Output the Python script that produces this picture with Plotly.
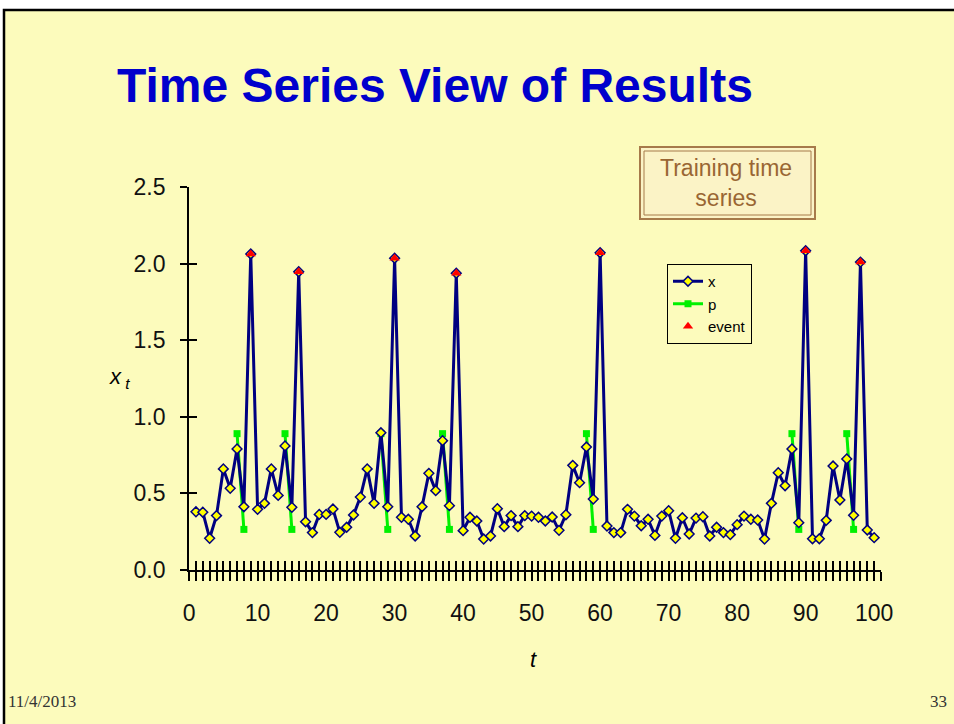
import plotly.graph_objects as go

# ---- data -------------------------------------------------------------
t = list(range(1, 101))
x_vals = [
    0.38, 0.377, 0.207, 0.355, 0.66, 0.533, 0.79, 0.413, 2.063, 0.396,
    0.435, 0.66, 0.487, 0.81, 0.409, 1.947, 0.315, 0.244, 0.363, 0.363,
    0.398, 0.246, 0.279, 0.359, 0.476, 0.66, 0.435, 0.896, 0.413, 2.035,
    0.344, 0.331, 0.222, 0.413, 0.631, 0.518, 0.844, 0.42, 1.937, 0.257,
    0.344, 0.32, 0.202, 0.222, 0.40, 0.283, 0.355, 0.283, 0.355, 0.352,
    0.344, 0.32, 0.346, 0.259, 0.361, 0.683, 0.57, 0.803, 0.463, 2.071,
    0.287, 0.244, 0.244, 0.396, 0.352, 0.289, 0.331, 0.226, 0.352, 0.387,
    0.207, 0.341, 0.235, 0.339, 0.348, 0.222, 0.279, 0.244, 0.231, 0.296,
    0.352, 0.331, 0.326, 0.202, 0.435, 0.635, 0.55, 0.79, 0.309, 2.084,
    0.204, 0.204, 0.324, 0.679, 0.457, 0.725, 0.357, 2.01, 0.261, 0.211,
]

# predicted probability: high just before an event, low right after
p_times = [7, 8, 14, 15, 28, 29, 37, 38, 58, 59, 88, 89, 96, 97]
p_levels = [0.89, 0.265] * 7

event_times = [9, 16, 30, 39, 60, 90, 98]

y_ticks = [0.0, 0.5, 1.0, 1.5, 2.0, 2.5]
x_label_ticks = list(range(0, 101, 10))

# ---- derived series ---------------------------------------------------
p_series = [None] * len(t)
for tt, lv in zip(p_times, p_levels):
    p_series[tt - 1] = lv
event_vals = [x_vals[tt - 1] for tt in event_times]

W, H = 954, 724
FONT = "Liberation Sans, Arial, sans-serif"
BG = "#FCFBBC"


def px(xp):
    return xp / W


def py(yp):
    return 1 - yp / H


fig = go.Figure()

fig.add_trace(go.Scatter(
    x=t, y=p_series, name="p", mode="lines+markers", connectgaps=False,
    line=dict(color="#00F000", width=3),
    marker=dict(symbol="square", size=7, color="#00F000"),
    legendrank=2, hoverinfo="skip",
))
fig.add_trace(go.Scatter(
    x=t, y=x_vals, name="x", mode="lines+markers",
    line=dict(color="#000080", width=3),
    marker=dict(symbol="diamond", size=7.5, color="#FFFF00",
                line=dict(color="#000080", width=1.5)),
    legendrank=1, hoverinfo="skip",
))
fig.add_trace(go.Scatter(
    x=event_times, y=event_vals, name="event", mode="markers",
    marker=dict(symbol="triangle-up", size=9, color="#FF0000"),
    legendrank=3, hoverinfo="skip",
))
# carrier for the overlay axes that draw the inward half of each tick
fig.add_trace(go.Scatter(x=[None], y=[None], xaxis="x2", yaxis="y2",
                         showlegend=False, hoverinfo="skip"))

x_dom = [px(189.1), px(881.0)]
y_dom = [py(570.0), py(187.0)]

unit_ticks = dict(tickmode="linear", tick0=0, dtick=1, ticklen=9,
                  tickwidth=2, tickcolor="black")

fig.update_layout(
    width=W, height=H,
    margin=dict(l=0, r=0, t=0, b=0, autoexpand=False),
    paper_bgcolor="white",
    plot_bgcolor="rgba(0,0,0,0)",
    font=dict(family=FONT, color="black"),
    showlegend=True,
    legend=dict(
        x=px(667), y=py(264), xanchor="left", yanchor="top",
        bgcolor="rgba(0,0,0,0)", bordercolor="black", borderwidth=1,
        font=dict(family=FONT, size=15, color="black"),
        itemwidth=30, tracegroupgap=0,
    ),
    xaxis=dict(
        domain=x_dom, range=[0, 101], anchor="y", automargin=False,
        tickmode="array", tickvals=x_label_ticks,
        ticktext=[str(v) for v in x_label_ticks], tickangle=0,
        ticks="outside", ticklen=9, tickwidth=2, tickcolor="black",
        minor=dict(ticks="outside", **unit_ticks),
        ticklabelstandoff=12,
        tickfont=dict(family=FONT, size=23, color="#111"),
        showline=True, linecolor="black", linewidth=2,
        showgrid=False, zeroline=False,
    ),
    yaxis=dict(
        domain=y_dom, range=[0, 2.5], anchor="x", automargin=False,
        tickmode="array", tickvals=y_ticks,
        ticktext=[f"{v:.1f}" for v in y_ticks],
        ticks="outside", ticklen=7, tickwidth=2, tickcolor="black",
        ticklabelstandoff=10,
        tickfont=dict(family=FONT, size=23, color="#111"),
        showline=True, linecolor="black", linewidth=2,
        showgrid=False, zeroline=False,
    ),
    xaxis2=dict(
        overlaying="x", range=[0, 101], anchor="y2", automargin=False,
        tickmode="array", tickvals=x_label_ticks, showticklabels=False,
        ticks="inside", ticklen=9, tickwidth=2, tickcolor="black",
        minor=dict(ticks="inside", **unit_ticks),
        showline=False, showgrid=False, zeroline=False,
    ),
    yaxis2=dict(
        overlaying="y", range=[0, 2.5], anchor="x2", automargin=False,
        tickmode="array", tickvals=y_ticks, showticklabels=False,
        ticks="inside", ticklen=8, tickwidth=2, tickcolor="black",
        showline=False, showgrid=False, zeroline=False,
    ),
)

# slide frame
fig.add_shape(type="rect", xref="paper", yref="paper",
              x0=px(4), x1=px(960), y0=py(730), y1=py(10),
              fillcolor=BG, line=dict(color="black", width=2.5), layer="below")

# "Training time series" callout with a double brown border
fig.add_shape(type="rect", xref="paper", yref="paper",
              x0=px(640), x1=px(815), y0=py(219), y1=py(147),
              fillcolor="#FBF3C6", line=dict(color="#A67A4A", width=2),
              layer="below")
fig.add_shape(type="rect", xref="paper", yref="paper",
              x0=px(644), x1=px(811), y0=py(215), y1=py(151),
              fillcolor="rgba(0,0,0,0)", line=dict(color="#A67A4A", width=1),
              layer="below")

fig.add_annotation(text="Training time<br>series", xref="paper", yref="paper",
                   x=px(726), y=py(183), xanchor="center", yanchor="middle",
                   showarrow=False,
                   font=dict(family=FONT, size=23, color="#996633"))

# title
fig.add_annotation(text="<b>Time Series View of Results</b>",
                   xref="paper", yref="paper", x=px(115), y=py(85),
                   xanchor="left", yanchor="middle", showarrow=False,
                   font=dict(family=FONT, size=48, color="#0000CC"))

# axis titles
fig.add_annotation(text="<i>x</i><sub><i> t</i></sub>", xref="paper", yref="paper",
                   x=px(119), y=py(378), xanchor="center", yanchor="middle",
                   showarrow=False, font=dict(family=FONT, size=22, color="black"))
fig.add_annotation(text="<i>t</i>", xref="paper", yref="paper",
                   x=px(533), y=py(659), xanchor="center", yanchor="middle",
                   showarrow=False, font=dict(family=FONT, size=22, color="black"))

# footer
fig.add_annotation(text="11/4/2013", xref="paper", yref="paper",
                   x=px(6), y=py(701), xanchor="left", yanchor="middle",
                   showarrow=False,
                   font=dict(family="Liberation Serif, Times New Roman, serif",
                             size=17, color="#333"))
fig.add_annotation(text="33", xref="paper", yref="paper",
                   x=px(949), y=py(701), xanchor="right", yanchor="middle",
                   showarrow=False,
                   font=dict(family="Liberation Serif, Times New Roman, serif",
                             size=17, color="#333"))

fig.write_html("out.html")
